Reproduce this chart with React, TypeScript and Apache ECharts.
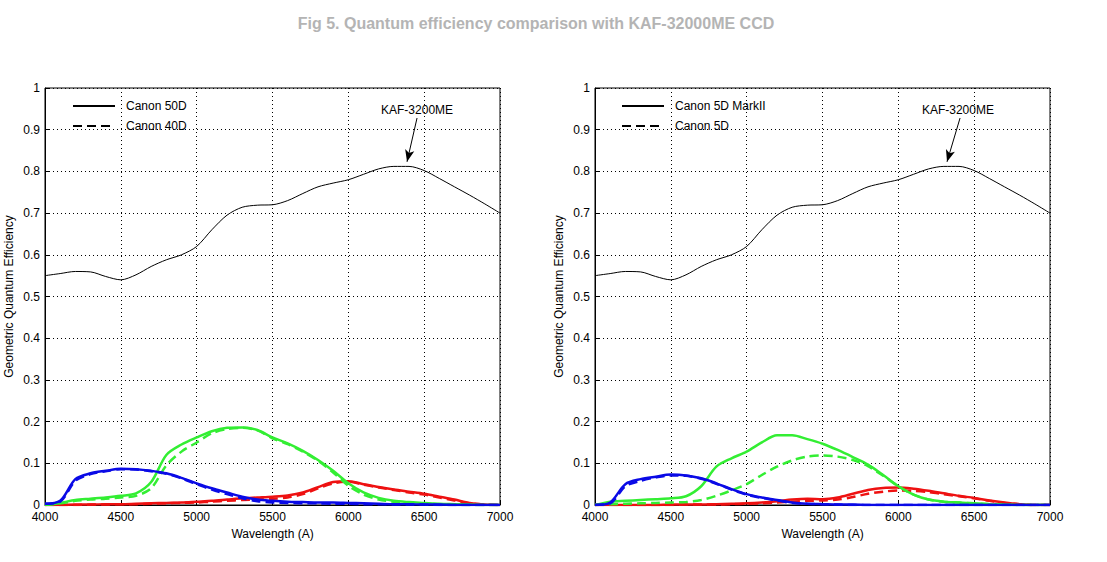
import React, { useEffect, useRef } from "react";
import * as echarts from "echarts";

const WAVELENGTHS = [4000,4100,4200,4300,4400,4500,4600,4700,4800,4900,5000,5100,5200,5300,5400,5500,5600,5700,5800,5900,6000,6100,6200,6300,6400,6500,6600,6700,6800,6900,7000];

const KAF = [0.550,0.555,0.560,0.559,0.548,0.540,0.552,0.572,0.588,0.600,0.620,0.660,0.695,0.714,0.719,0.720,0.730,0.747,0.763,0.772,0.780,0.793,0.806,0.812,0.812,0.802,0.783,0.763,0.743,0.722,0.700];

// Left plot: Canon 50D (solid) and Canon 40D (dashed)
const D50_BLUE = [0.003,0.010,0.062,0.076,0.082,0.087,0.086,0.082,0.076,0.065,0.052,0.040,0.030,0.020,0.013,0.010,0.008,0.007,0.006,0.006,0.005,0.004,0.003,0.002,0.002,0.001,0.001,0,0,0,0];
const D40_BLUE = [0.003,0.008,0.058,0.074,0.081,0.086,0.085,0.081,0.075,0.064,0.050,0.037,0.026,0.016,0.009,0.006,0.005,0.004,0.004,0.003,0.003,0.002,0.002,0.001,0.001,0.001,0,0,0,0,0];
const D50_GREEN = [0,0.005,0.012,0.015,0.018,0.022,0.028,0.055,0.120,0.145,0.162,0.177,0.185,0.186,0.180,0.162,0.148,0.130,0.108,0.082,0.052,0.030,0.017,0.010,0.007,0.005,0.003,0.002,0.001,0,0];
const D40_GREEN = [0,0.004,0.010,0.013,0.015,0.018,0.022,0.040,0.095,0.128,0.150,0.172,0.182,0.185,0.179,0.160,0.146,0.128,0.106,0.078,0.046,0.025,0.013,0.008,0.005,0.003,0.002,0.001,0,0,0];
const D50_RED = [0,0,0.001,0.001,0.002,0.002,0.003,0.004,0.005,0.006,0.008,0.010,0.013,0.016,0.018,0.020,0.023,0.030,0.043,0.055,0.057,0.050,0.043,0.037,0.032,0.027,0.020,0.013,0.005,0.001,0];
const D40_RED = [0,0,0,0.001,0.001,0.002,0.002,0.003,0.004,0.005,0.006,0.008,0.010,0.012,0.013,0.015,0.018,0.026,0.040,0.052,0.056,0.049,0.042,0.036,0.030,0.025,0.018,0.011,0.004,0.001,0];

// Right plot: Canon 5D MarkII (solid) and Canon 5D (dashed)
const M2_BLUE = [0,0.006,0.050,0.062,0.068,0.073,0.071,0.064,0.052,0.038,0.026,0.018,0.012,0.006,0.003,0.002,0.001,0.001,0,0,0,0,0,0,0,0,0,0,0,0,0];
const D5_BLUE = [0,0.004,0.045,0.058,0.066,0.071,0.070,0.063,0.051,0.037,0.025,0.017,0.011,0.005,0.003,0.002,0.001,0,0,0,0,0,0,0,0,0,0,0,0,0,0];
const M2_GREEN = [0,0.008,0.010,0.012,0.014,0.016,0.021,0.045,0.092,0.112,0.128,0.150,0.167,0.167,0.158,0.147,0.132,0.115,0.097,0.072,0.045,0.025,0.013,0.008,0.006,0.004,0.002,0.001,0,0,0];
const D5_GREEN = [0,0.002,0.003,0.004,0.005,0.006,0.007,0.012,0.022,0.035,0.050,0.072,0.092,0.107,0.116,0.119,0.116,0.108,0.093,0.070,0.045,0.025,0.013,0.008,0.006,0.004,0.002,0.001,0,0,0];
const M2_RED = [0,0,0,0,0,0.001,0.001,0.001,0.002,0.003,0.004,0.006,0.009,0.013,0.015,0.014,0.018,0.027,0.036,0.041,0.042,0.039,0.034,0.028,0.022,0.017,0.011,0.006,0.002,0,0];
const D5_RED = [0,0,0,0,0,0,0.001,0.001,0.001,0.002,0.003,0.004,0.006,0.008,0.010,0.011,0.013,0.019,0.027,0.032,0.035,0.034,0.031,0.026,0.021,0.016,0.010,0.005,0.002,0,0];

const LEFT_LEGEND = ["Canon 50D", "Canon 40D"];
const RIGHT_LEGEND = ["Canon 5D MarkII", "Canon 5D"];

// annotation anchors (data coordinates): text, arrow start, arrow tip
const LEFT_ANNOT = { text: [6453, 0.947], from: [6453, 0.928], to: [6387, 0.823] };
const RIGHT_ANNOT = { text: [6393, 0.947], from: [6407, 0.928], to: [6321, 0.823] };

const FONT = "Liberation Sans, Arial, Helvetica, sans-serif";
const BLUE = "#0a0ae6";
const GREEN = "#33ee33";
const RED = "#ee1111";
const DASH = [9, 5];

const pairs = (vals: number[]) => WAVELENGTHS.map((w, i) => [w, vals[i]]);

function curve(name: string, vals: number[], color: string, dashed: boolean, idx: number) {
  return {
    name,
    type: "line",
    xAxisIndex: idx,
    yAxisIndex: idx,
    data: pairs(vals),
    showSymbol: false,
    symbol: "none",
    smooth: 0.3,
    lineStyle: { color, width: 2.5, type: dashed ? DASH : "solid" },
    z: 3,
  };
}

function kaf(idx: number, annot: any) {
  return {
    name: "KAF-3200ME " + idx,
    type: "line",
    xAxisIndex: idx,
    yAxisIndex: idx,
    data: pairs(KAF),
    showSymbol: false,
    symbol: "none",
    smooth: 0.3,
    lineStyle: { color: "#000", width: 1 },
    z: 4,
    markLine: {
      silent: true,
      symbol: ["none", "arrow"],
      symbolSize: [7, 12],
      lineStyle: { color: "#000", width: 1, type: "solid" },
      label: { show: false },
      data: [[{ coord: annot.from }, { coord: annot.to }]],
    },
    markPoint: {
      silent: true,
      symbol: "circle",
      symbolSize: 0,
      data: [
        {
          coord: annot.text,
          label: {
            show: true,
            formatter: "KAF-3200ME",
            color: "#000",
            fontSize: 12,
            fontFamily: FONT,
          },
        },
      ],
    },
  };
}

function legendSeries(name: string, dashed: boolean, idx: number) {
  return {
    name,
    type: "line",
    xAxisIndex: idx,
    yAxisIndex: idx,
    data: [],
    showSymbol: false,
    symbol: "none",
    lineStyle: { color: "#000", width: 2, type: dashed ? DASH : "solid" },
    itemStyle: { color: "rgba(0,0,0,0)", borderWidth: 0, opacity: 0 },
  };
}

function xAxis(idx: number) {
  return {
    type: "value",
    gridIndex: idx,
    min: 4000,
    max: 7000,
    interval: 500,
    name: "Wavelength (A)",
    nameLocation: "middle",
    nameGap: 22,
    nameTextStyle: { color: "#000", fontSize: 12, fontFamily: FONT },
    axisLine: { show: true, lineStyle: { color: "#000", width: 1 } },
    axisTick: { show: true, inside: true, length: 4, lineStyle: { color: "#000" } },
    axisLabel: {
      color: "#000",
      fontSize: 12,
      fontFamily: FONT,
      margin: 6,
      formatter: (v: number) => String(v),
    },
    splitLine: { show: true, lineStyle: { color: "#000", type: [1, 3], width: 1 } },
  };
}

function yAxis(idx: number) {
  return {
    type: "value",
    gridIndex: idx,
    min: 0,
    max: 1,
    interval: 0.1,
    name: "Geometric Quantum Efficiency",
    nameLocation: "middle",
    nameGap: 30,
    nameTextStyle: { color: "#000", fontSize: 12, fontFamily: FONT },
    axisLine: { show: true, lineStyle: { color: "#000", width: 1 } },
    axisTick: { show: true, inside: true, length: 4, lineStyle: { color: "#000" } },
    axisLabel: {
      color: "#000",
      fontSize: 12,
      fontFamily: FONT,
      margin: 5,
      formatter: (v: number) => String(+v.toFixed(1)),
    },
    splitLine: { show: true, lineStyle: { color: "#000", type: [1, 3], width: 1 } },
  };
}

function legend(names: string[], left: number) {
  return {
    data: names,
    orient: "vertical",
    left,
    top: 95,
    itemWidth: 42,
    itemHeight: 14,
    itemGap: 8,
    selectedMode: false,
    textStyle: { color: "#000", fontSize: 12, fontFamily: FONT, padding: [0, 0, 0, 6] },
  };
}

export default function App() {
  const ref = useRef<HTMLDivElement>(null);
  useEffect(() => {
    if (!ref.current) return;
    const chart = echarts.init(ref.current, null, { renderer: "svg" });
    chart.setOption({
      animation: false,
      backgroundColor: "#fff",
      title: {
        text: "Fig 5. Quantum efficiency comparison with KAF-32000ME CCD",
        left: 531,
        textAlign: "center",
        top: 10,
        textStyle: { color: "#b4b4b4", fontSize: 16, fontWeight: "bold", fontFamily: FONT },
      },
      legend: [legend(LEFT_LEGEND, 67), legend(RIGHT_LEGEND, 616)],
      grid: [
        { left: 45, top: 88, width: 455, height: 417, show: true, borderColor: "#000", borderWidth: 1, backgroundColor: "transparent" },
        { left: 595, top: 88, width: 455, height: 417, show: true, borderColor: "#000", borderWidth: 1, backgroundColor: "transparent" },
      ],
      xAxis: [xAxis(0), xAxis(1)],
      yAxis: [yAxis(0), yAxis(1)],
      series: [
        legendSeries(LEFT_LEGEND[0], false, 0),
        legendSeries(LEFT_LEGEND[1], true, 0),
        legendSeries(RIGHT_LEGEND[0], false, 1),
        legendSeries(RIGHT_LEGEND[1], true, 1),
        curve("50D red", D50_RED, RED, false, 0),
        curve("40D red", D40_RED, RED, true, 0),
        curve("50D green", D50_GREEN, GREEN, false, 0),
        curve("40D green", D40_GREEN, GREEN, true, 0),
        curve("50D blue", D50_BLUE, BLUE, false, 0),
        curve("40D blue", D40_BLUE, BLUE, true, 0),
        curve("5D2 red", M2_RED, RED, false, 1),
        curve("5D red", D5_RED, RED, true, 1),
        curve("5D2 green", M2_GREEN, GREEN, false, 1),
        curve("5D green", D5_GREEN, GREEN, true, 1),
        curve("5D2 blue", M2_BLUE, BLUE, false, 1),
        curve("5D blue", D5_BLUE, BLUE, true, 1),
        kaf(0, LEFT_ANNOT),
        kaf(1, RIGHT_ANNOT),
      ],
    });
    return () => chart.dispose();
  }, []);
  return (
    <div
      ref={ref}
      style={{ position: "fixed", left: 0, top: 0, width: 1107, height: 562, background: "#fff" }}
    />
  );
}
